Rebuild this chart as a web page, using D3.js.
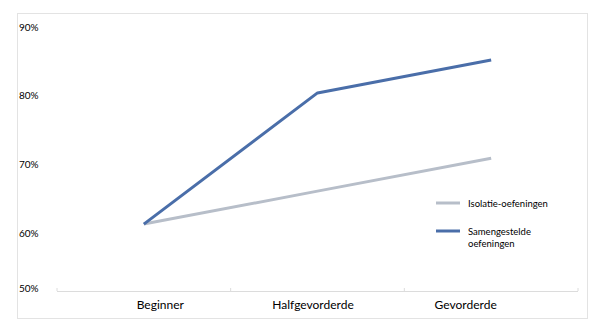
<!DOCTYPE html>
<html>
<head>
<meta charset="utf-8">
<script src="https://cdn.jsdelivr.net/npm/d3@7"></script>
<style>
  body { margin: 0; background: #fff; }
  svg { display: block; }
  text { font-family: Lato, "Open Sans", sans-serif; fill: #000; }
</style>
</head>
<body>
<svg id="chart" width="605" height="332"></svg>
<script>
var categories = ["Beginner", "Halfgevorderde", "Gevorderde"];
var isolatie = [0.613, 0.661, 0.709];
var samengesteld = [0.613, 0.804, 0.852];
var yTicks = [0.5, 0.6, 0.7, 0.8, 0.9];
var seriesNames = ["Isolatie-oefeningen", "Samengestelde oefeningen"];

var svg = d3.select("#chart");

// outer frame
svg.append("rect")
  .attr("x", 17.5).attr("y", 13.5)
  .attr("width", 570).attr("height", 305)
  .attr("fill", "none")
  .attr("stroke", "#e3e3e3");

var x = d3.scalePoint().domain(categories).range([57, 578]).padding(0.5);
var band = d3.scaleBand().domain(categories).range([57, 578]);
// labels sit a little off the data points in the original
var xLabel = d3.scalePoint().domain(categories).range([84, 542]).padding(0.5);
var y = d3.scaleLinear().domain([0.6, 0.9]).range([233, 27]);
var axisY = 291;

// x axis line + ticks at category boundaries
svg.append("line")
  .attr("x1", 57).attr("x2", 578)
  .attr("y1", axisY + 0.5).attr("y2", axisY + 0.5)
  .attr("stroke", "#dcdcdc");

var bounds = categories.map(function(c) { return band(c); }).concat([578]);
svg.selectAll(".tick").data(bounds).enter().append("line")
  .attr("x1", function(d) { return d; }).attr("x2", function(d) { return d; })
  .attr("y1", axisY - 3).attr("y2", axisY)
  .attr("stroke", "#dcdcdc");

svg.selectAll(".xlab").data(categories).enter().append("text")
  .attr("x", function(d) { return xLabel(d); })
  .attr("y", 309)
  .attr("text-anchor", "middle")
  .style("font-size", "12px")
  .text(function(d) { return d; });

// y labels
svg.selectAll(".ylab").data(yTicks).enter().append("text")
  .attr("x", 19)
  .attr("y", function(d) { return Math.min(y(d), axisY - 3) + 3.5; })
  .style("font-size", "10px")
  .text(function(d) { return d3.format(".0%")(d); });

var line = d3.line()
  .x(function(d, i) { return x(categories[i]); })
  .y(function(d) { return y(d); });

svg.append("path").datum(isolatie)
  .attr("d", line)
  .attr("fill", "none")
  .attr("stroke", "#b7bec9")
  .attr("stroke-width", 3)
  .attr("stroke-linejoin", "round");

svg.append("path").datum(samengesteld)
  .attr("d", line)
  .attr("fill", "none")
  .attr("stroke", "#4a6ea9")
  .attr("stroke-width", 3)
  .attr("stroke-linejoin", "round");

// legend
var legend = svg.append("g");
legend.append("line")
  .attr("x1", 436).attr("x2", 460).attr("y1", 203).attr("y2", 203)
  .attr("stroke", "#b7bec9").attr("stroke-width", 3);
legend.append("text")
  .attr("x", 468).attr("y", 206.5)
  .style("font-size", "9.5px")
  .text(seriesNames[0]);
legend.append("line")
  .attr("x1", 436).attr("x2", 460).attr("y1", 231).attr("y2", 231)
  .attr("stroke", "#4a6ea9").attr("stroke-width", 3);
var t2 = legend.append("text")
  .attr("x", 468).attr("y", 234.5)
  .style("font-size", "9.5px");
t2.append("tspan").attr("x", 468).text("Samengestelde");
t2.append("tspan").attr("x", 468).attr("dy", 12.5).text("oefeningen");
</script>
</body>
</html>
